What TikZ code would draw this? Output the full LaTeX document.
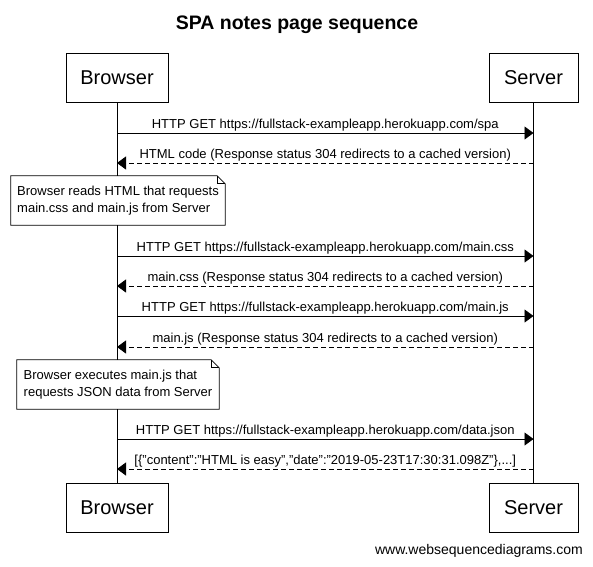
\documentclass[tikz,border=0pt]{standalone}
\usepackage{fontspec}
\setmainfont{Liberation Sans}
\usetikzlibrary{arrows.meta}
\tikzset{
  actor/.style={draw, line width=0.9pt, fill=white, minimum height=49pt, inner sep=0pt, font=\fontsize{20}{24}\selectfont},
  lifeline/.style={line width=0.9pt},
  msg/.style={line width=0.9pt, -{Triangle[length=9pt,width=13pt]}},
  reply/.style={msg, dash pattern=on 5pt off 3pt},
  lbl/.style={font=\fontsize{13}{15}\selectfont, inner sep=0pt, above=1.5pt},
  notetext/.style={fill=white, inner sep=0pt, minimum height=49pt, align=left, font=\fontsize{13}{16.5}\selectfont},
  noteline/.style={line width=0.8pt},
}
\newcommand{\notefold}[1]{%
  \draw[noteline] (#1.south west) -- (#1.north west) -- ([xshift=-8pt]#1.north east) -- ([yshift=-8pt]#1.north east) -- (#1.south east) -- cycle;
  \draw[noteline] ([xshift=-8pt]#1.north east) -- ([xshift=-8pt,yshift=-8pt]#1.north east) -- ([yshift=-8pt]#1.north east);}
\begin{document}
\begin{tikzpicture}[x=1pt,y=-1pt]
\useasboundingbox (0,0) rectangle (593,566);
\node[font=\bfseries\fontsize{19.5}{23}\selectfont] (title) at (297,24.5) {SPA notes page sequence};
\node[actor, minimum width=102pt] (bt) at (117,77.5) {Browser};
\node[actor, minimum width=89pt] (st) at (533.5,77.5) {Server};
\node[actor, minimum width=102pt] (bb) at (117,507.5) {Browser};
\node[actor, minimum width=89pt] (sb) at (533.5,507.5) {Server};
\draw[lifeline] (bt.south) -- (bb.north);
\draw[lifeline] (st.south) -- (sb.north);
% message coordinates
\foreach \n/\y in {1/133,2/163,3/256,4/286,5/316,6/347,7/439,8/469}{
  \coordinate (b\n) at (117,\y);
  \coordinate (s\n) at (533.5,\y);
}
\draw[msg] (b1) -- (s1) node[lbl, midway] {HTTP GET https://fullstack-exampleapp.herokuapp.com/spa};
\draw[reply] (s2) -- (b2) node[lbl, midway] {HTML code (Response status 304 redirects to a cached version)};
\draw[msg] (b3) -- (s3) node[lbl, midway] {HTTP GET https://fullstack-exampleapp.herokuapp.com/main.css};
\draw[reply] (s4) -- (b4) node[lbl, midway] {main.css (Response status 304 redirects to a cached version)};
\draw[msg] (b5) -- (s5) node[lbl, midway] {HTTP GET https://fullstack-exampleapp.herokuapp.com/main.js};
\draw[reply] (s6) -- (b6) node[lbl, midway] {main.js (Response status 304 redirects to a cached version)};
\draw[msg] (b7) -- (s7) node[lbl, midway] {HTTP GET https://fullstack-exampleapp.herokuapp.com/data.json};
\draw[reply] (s8) -- (b8) node[lbl, midway] {[\{\symbol{34}content\symbol{34}:\symbol{34}HTML is easy\symbol{34},\symbol{34}date\symbol{34}:\symbol{34}2019-05-23T17:30:31.098Z\symbol{34}\},...]};
% notes
\node[notetext, minimum width=214pt] (n1) at (118,200.5) {Browser reads HTML that requests\\main.css and main.js from Server};
\notefold{n1}
\node[notetext, minimum width=202pt] (n2) at (118,384.5) {Browser executes main.js that\\requests JSON data from Server};
\notefold{n2}
\node[font=\fontsize{14}{16}\selectfont, anchor=east, inner sep=0pt] (footer) at (583,551) {www.websequencediagrams.com};
\end{tikzpicture}
\end{document}
